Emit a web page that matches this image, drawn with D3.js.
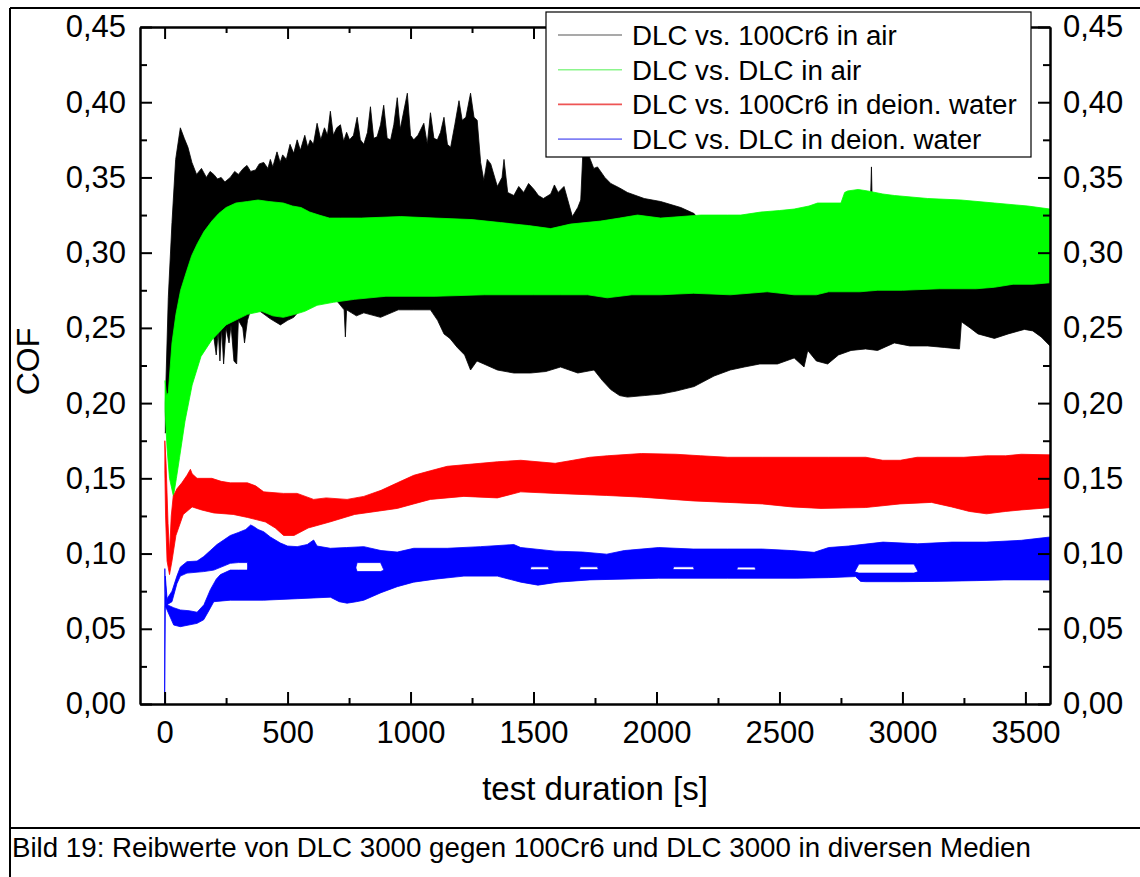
<!DOCTYPE html>
<html>
<head>
<meta charset="utf-8">
<script src="https://cdn.jsdelivr.net/npm/d3@7"></script>
<style>
  html, body { margin: 0; padding: 0; background: #ffffff; }
  svg { display: block; }
  text { font-family: "Liberation Sans", Arial, sans-serif; fill: #000; }
</style>
</head>
<body>
<svg id="chart" width="1140" height="877"></svg>
<script>
// ---------------- DATA ----------------
const xTickValues = [0, 500, 1000, 1500, 2000, 2500, 3000, 3500];
const xMinorTickValues = [250, 750, 1250, 1750, 2250, 2750, 3250];
const yTickValues = [0, 0.05, 0.10, 0.15, 0.20, 0.25, 0.30, 0.35, 0.40, 0.45];
const yMinorTickValues = [0.025, 0.075, 0.125, 0.175, 0.225, 0.275, 0.325, 0.375, 0.425];

const seriesNames = [
  "DLC vs. 100Cr6 in air",
  "DLC vs. DLC in air",
  "DLC vs. 100Cr6 in deion. water",
  "DLC vs. DLC in deion. water"
];

// DLC vs. 100Cr6 in air : envelope of the oscillating signal [time s, COF]
const blackUpper = [
  [3,0.20],[15,0.27],[30,0.32],[45,0.362],[64,0.383],[80,0.376],[95,0.37],[111,0.360],[130,0.352],
  [150,0.356],[170,0.350],[185,0.354],[200,0.352],[215,0.349],[230,0.350],[245,0.347],[267,0.350],
  [285,0.354],[300,0.352],[320,0.356],[335,0.358],[350,0.354],[370,0.355],[385,0.359],[403,0.360],
  [420,0.356],[430,0.362],[440,0.357],[457,0.367],[470,0.360],[480,0.365],[495,0.362],[510,0.372],
  [525,0.366],[539,0.375],[552,0.368],[570,0.378],[582,0.370],[592,0.375],[605,0.372],[620,0.386],
  [635,0.375],[650,0.383],[662,0.378],[674,0.394],[686,0.378],[700,0.383],[715,0.385],[728,0.374],
  [740,0.380],[752,0.375],[768,0.378],[783,0.390],[796,0.375],[810,0.372],[825,0.380],[837,0.397],
  [850,0.376],[864,0.377],[878,0.385],[891,0.398],[905,0.376],[919,0.375],[932,0.385],[946,0.403],
  [958,0.382],[970,0.392],[987,0.406],[1000,0.378],[1013,0.375],[1030,0.378],[1054,0.386],
  [1068,0.372],[1081,0.393],[1095,0.376],[1109,0.375],[1122,0.380],[1136,0.390],[1150,0.372],
  [1163,0.370],[1180,0.385],[1197,0.401],[1210,0.388],[1225,0.390],[1244,0.406],[1258,0.390],
  [1271,0.388],[1285,0.36],[1298,0.348],[1312,0.362],[1326,0.359],[1353,0.344],[1372,0.350],
  [1380,0.362],[1395,0.340],[1420,0.338],[1440,0.344],[1460,0.340],[1480,0.346],[1502,0.342],
  [1520,0.338],[1540,0.336],[1570,0.339],[1585,0.345],[1600,0.340],[1624,0.344],[1658,0.324],
  [1680,0.330],[1692,0.335],[1700,0.364],[1726,0.364],[1745,0.356],[1760,0.357],[1790,0.350],
  [1814,0.346],[1850,0.343],[1882,0.340],[1950,0.336],[2017,0.334],[2099,0.330],[2153,0.326],
  [2200,0.315],[2400,0.31],[2866,0.31],[2874,0.357],[2880,0.31],[3600,0.31]
];
const blackLower = [
  [3,0.18],[10,0.19],[30,0.21],[60,0.23],[100,0.25],[150,0.26],[190,0.255],[200,0.244],[210,0.232],
  [218,0.248],[225,0.228],[232,0.25],[240,0.226],[250,0.25],[262,0.24],[270,0.252],[282,0.228],
  [293,0.226],[300,0.255],[318,0.25],[325,0.24],[337,0.255],[350,0.262],[380,0.262],[430,0.256],
  [471,0.252],[500,0.255],[525,0.257],[566,0.265],[620,0.268],[674,0.269],[700,0.268],[730,0.262],
  [735,0.244],[740,0.262],[760,0.26],[780,0.258],[810,0.26],[878,0.257],[950,0.262],[1013,0.262],
  [1081,0.262],[1110,0.255],[1136,0.246],[1160,0.243],[1190,0.237],[1220,0.232],[1244,0.222],
  [1270,0.228],[1298,0.226],[1353,0.222],[1420,0.220],[1488,0.220],[1550,0.221],[1610,0.224],
  [1680,0.220],[1746,0.222],[1780,0.215],[1814,0.209],[1850,0.205],[1882,0.204],[1950,0.205],
  [2017,0.206],[2080,0.208],[2153,0.211],[2234,0.218],[2300,0.222],[2357,0.224],[2420,0.226],
  [2492,0.226],[2560,0.230],[2600,0.224],[2615,0.235],[2650,0.228],[2696,0.226],[2740,0.232],
  [2791,0.235],[2850,0.236],[2899,0.235],[2967,0.240],[3030,0.238],[3103,0.238],[3170,0.237],
  [3232,0.236],[3240,0.254],[3275,0.25],[3307,0.246],[3374,0.243],[3430,0.246],[3496,0.249],
  [3530,0.248],[3564,0.244],[3600,0.238]
];

// DLC vs. DLC in air
const greenUpper = [
  [2,0.215],[8,0.205],[15,0.207],[30,0.24],[46,0.259],[65,0.275],[90,0.288],[110,0.298],[133,0.306],
  [160,0.314],[192,0.321],[220,0.326],[250,0.330],[290,0.333],[337,0.334],[380,0.335],[424,0.334],
  [483,0.333],[520,0.331],[555,0.330],[590,0.327],[628,0.325],[670,0.323],[715,0.323],[800,0.323],
  [960,0.324],[1100,0.323],[1250,0.322],[1366,0.320],[1480,0.318],[1570,0.316],[1650,0.319],
  [1773,0.321],[1850,0.323],[1923,0.325],[2017,0.323],[2100,0.324],[2180,0.325],[2289,0.325],
  [2343,0.325],[2424,0.327],[2500,0.328],[2560,0.329],[2620,0.331],[2655,0.333],[2750,0.333],
  [2765,0.34],[2777,0.341],[2820,0.342],[2859,0.341],[2920,0.339],[2967,0.338],[3103,0.336],
  [3238,0.335],[3374,0.333],[3510,0.331],[3600,0.329]
];
const greenLower = [
  [2,0.195],[10,0.17],[20,0.15],[36,0.138],[48,0.15],[61,0.164],[83,0.188],[112,0.212],[148,0.231],
  [192,0.242],[250,0.252],[300,0.256],[337,0.259],[395,0.261],[440,0.258],[483,0.257],[530,0.259],
  [570,0.261],[620,0.265],[686,0.267],[773,0.269],[900,0.271],[1100,0.271],[1300,0.272],[1500,0.272],
  [1610,0.272],[1720,0.272],[1800,0.270],[1900,0.272],[2017,0.272],[2150,0.273],[2300,0.272],
  [2450,0.274],[2560,0.272],[2650,0.272],[2700,0.274],[2827,0.274],[2900,0.275],[3000,0.275],
  [3150,0.276],[3300,0.276],[3374,0.277],[3450,0.279],[3530,0.279],[3600,0.280]
];

// DLC vs. 100Cr6 in deion. water
const redUpper = [
  [1,0.175],[6,0.16],[14,0.12],[20,0.10],[27,0.125],[35,0.138],[50,0.143],[70,0.147],[91,0.152],
  [105,0.156],[112,0.153],[132,0.150],[192,0.150],[230,0.148],[267,0.147],[337,0.147],[370,0.145],
  [403,0.141],[483,0.140],[539,0.140],[606,0.136],[657,0.137],[742,0.136],[810,0.138],[880,0.142],
  [946,0.147],[1013,0.152],[1080,0.155],[1149,0.158],[1217,0.159],[1285,0.160],[1353,0.161],
  [1448,0.162],[1588,0.160],[1660,0.162],[1729,0.164],[1800,0.165],[1939,0.1665],[2079,0.166],
  [2180,0.165],[2290,0.164],[2430,0.164],[2571,0.164],[2700,0.164],[2851,0.164],[2920,0.162],
  [2991,0.162],[3060,0.164],[3132,0.164],[3250,0.164],[3342,0.165],[3420,0.165],[3483,0.166],
  [3600,0.1656]
];
const redLower = [
  [1,0.155],[4,0.125],[10,0.095],[20,0.086],[30,0.095],[46,0.112],[76,0.126],[112,0.131],[150,0.129],
  [200,0.127],[279,0.126],[337,0.124],[410,0.121],[450,0.117],[484,0.112],[526,0.112],[584,0.117],
  [672,0.121],[773,0.126],[860,0.128],[946,0.130],[1013,0.133],[1081,0.136],[1217,0.138],
  [1353,0.137],[1448,0.141],[1588,0.140],[1798,0.1386],[1939,0.1375],[2149,0.135],[2290,0.134],
  [2430,0.133],[2550,0.131],[2669,0.130],[2851,0.1306],[2990,0.133],[3118,0.134],[3200,0.131],
  [3272,0.128],[3342,0.1264],[3420,0.128],[3483,0.129],[3600,0.1305]
];

// DLC vs. DLC in deion. water : upper strand
const blueUpperTop = [
  [3,0.085],[10,0.07],[30,0.075],[50,0.085],[64,0.091],[91,0.0946],[132,0.095],[159,0.098],
  [186,0.102],[213,0.106],[240,0.109],[267,0.112],[300,0.114],[330,0.116],[350,0.119],[362,0.118],
  [380,0.116],[403,0.1145],[430,0.111],[471,0.107],[500,0.105],[539,0.1046],[580,0.106],[606,0.109],
  [620,0.105],[674,0.1035],[740,0.104],[810,0.1046],[880,0.102],[946,0.101],[1013,0.1035],
  [1149,0.1035],[1285,0.1046],[1420,0.106],[1448,0.104],[1588,0.1016],[1700,0.101],[1798,0.0996],
  [1869,0.102],[2009,0.104],[2149,0.103],[2290,0.103],[2430,0.103],[2550,0.102],[2641,0.1008],
  [2700,0.104],[2781,0.105],[2921,0.1076],[3062,0.1065],[3202,0.1076],[3342,0.1076],[3483,0.1088],
  [3600,0.111]
];
const blueUpperBottom = [
  [3,0.08],[10,0.066],[30,0.068],[50,0.08],[64,0.085],[91,0.087],[159,0.088],[200,0.089],[230,0.091],
  [267,0.0935],[300,0.094],[337,0.094],[345,0.08],[760,0.08],[783,0.094],[878,0.094],[900,0.086],
  [1480,0.086],[1490,0.0912],[1560,0.0912],[1570,0.086],[1680,0.086],[1690,0.0912],[1760,0.0912],
  [1770,0.086],[2060,0.086],[2070,0.0912],[2150,0.0912],[2160,0.086],[2320,0.086],[2330,0.0910],
  [2400,0.0910],[2410,0.086],[2800,0.086],[2823,0.093],[3047,0.093],[3070,0.086],[3600,0.086]
];
// lower strand
const blueLowerTop = [
  [0,0.0],[1,0.09],[3,0.075],[10,0.066],[37,0.064],[64,0.0625],[100,0.062],[132,0.061],[160,0.066],
  [186,0.076],[210,0.083],[227,0.086],[267,0.089],[300,0.089],[337,0.089],[345,0.10],[400,0.105],
  [600,0.10],[760,0.098],[783,0.088],[878,0.088],[900,0.0895],[1500,0.0893],[2000,0.0894],
  [2600,0.089],[2780,0.089],[2823,0.087],[3047,0.087],[3100,0.090],[3600,0.091]
];
const blueLowerBottom = [
  [0,0.0],[3,0.065],[10,0.0625],[37,0.0525],[64,0.0514],[132,0.0536],[159,0.056],[180,0.062],
  [200,0.068],[267,0.069],[403,0.069],[539,0.070],[674,0.071],[710,0.068],[742,0.067],[780,0.068],
  [810,0.069],[880,0.074],[946,0.078],[1013,0.081],[1100,0.083],[1217,0.085],[1353,0.085],
  [1448,0.081],[1518,0.079],[1600,0.081],[1729,0.0825],[2009,0.0836],[2290,0.0836],[2571,0.0836],
  [2700,0.084],[2809,0.0847],[2830,0.0815],[2851,0.0813],[2991,0.0813],[3132,0.0815],[3300,0.082],
  [3413,0.0825],[3600,0.0825]
];

const seriesColors = ["#000000", "#00ff00", "#ff0000", "#0000ff"];
const legendLineColors = ["#8c8c8c", "#8cf58c", "#ee5555", "#8080f5"];

// ---------------- DRAWING ----------------
const svg = d3.select("#chart");
const W = 1140, H = 877;
const plot = { left: 140, right: 1050, top: 27, bottom: 704 };

svg.append("rect").attr("width", W).attr("height", H).attr("fill", "#ffffff");

const x = d3.scaleLinear().domain([-100, 3600]).range([plot.left, plot.right]);
const y = d3.scaleLinear().domain([0, 0.45]).range([plot.bottom, plot.top]);

svg.append("clipPath").attr("id", "clip")
  .append("rect")
  .attr("x", plot.left).attr("y", plot.top)
  .attr("width", plot.right - plot.left).attr("height", plot.bottom - plot.top);

const line = d3.line().x(d => x(d[0])).y(d => y(d[1]));
const bands = [
  { upper: blackUpper, lower: blackLower, color: seriesColors[0] },
  { upper: greenUpper, lower: greenLower, color: seriesColors[1] },
  { upper: redUpper, lower: redLower, color: seriesColors[2] },
  { upper: blueUpperTop, lower: blueUpperBottom, color: seriesColors[3] },
  { upper: blueLowerTop, lower: blueLowerBottom, color: seriesColors[3] }
];
const gData = svg.append("g").attr("clip-path", "url(#clip)");
bands.forEach(b => {
  const pts = b.upper.concat(b.lower.slice().reverse());
  gData.append("path")
    .attr("d", line(pts) + "Z")
    .attr("fill", b.color)
    .attr("stroke", b.color)
    .attr("stroke-width", 0.8)
    .attr("stroke-linejoin", "round");
});

// ---------------- AXES ----------------
const fmtY = d => d3.format(".2f")(d).replace(".", ",");
const tickFont = "31px";

function styleAxis(g) {
  g.selectAll("path.domain").attr("stroke", "#000").attr("stroke-width", 2);
  g.selectAll(".tick line").attr("stroke", "#000").attr("stroke-width", 2);
  g.selectAll("text").style("font-size", tickFont).style("font-family", '"Liberation Sans", Arial, sans-serif').attr("fill", "#000");
}

// bottom
svg.append("g").attr("transform", `translate(0,${plot.bottom})`)
  .call(d3.axisBottom(x).tickValues(xTickValues).tickSizeInner(-12).tickSizeOuter(0).tickPadding(17).tickFormat(d3.format("d")))
  .call(styleAxis);
svg.append("g").attr("transform", `translate(0,${plot.bottom})`)
  .call(d3.axisBottom(x).tickValues(xMinorTickValues).tickSizeInner(-6).tickSizeOuter(0).tickFormat(""))
  .call(styleAxis);
// top
svg.append("g").attr("transform", `translate(0,${plot.top})`)
  .call(d3.axisTop(x).tickValues(xTickValues).tickSizeInner(-12).tickSizeOuter(0).tickFormat(""))
  .call(styleAxis);
svg.append("g").attr("transform", `translate(0,${plot.top})`)
  .call(d3.axisTop(x).tickValues(xMinorTickValues).tickSizeInner(-6).tickSizeOuter(0).tickFormat(""))
  .call(styleAxis);
// left
svg.append("g").attr("transform", `translate(${plot.left},0)`)
  .call(d3.axisLeft(y).tickValues(yTickValues).tickSizeInner(-12).tickSizeOuter(0).tickPadding(14).tickFormat(fmtY))
  .call(styleAxis);
svg.append("g").attr("transform", `translate(${plot.left},0)`)
  .call(d3.axisLeft(y).tickValues(yMinorTickValues).tickSizeInner(-7).tickSizeOuter(0).tickFormat(""))
  .call(styleAxis);
// right
svg.append("g").attr("transform", `translate(${plot.right},0)`)
  .call(d3.axisRight(y).tickValues(yTickValues).tickSizeInner(-12).tickSizeOuter(0).tickPadding(13).tickFormat(fmtY))
  .call(styleAxis);
svg.append("g").attr("transform", `translate(${plot.right},0)`)
  .call(d3.axisRight(y).tickValues(yMinorTickValues).tickSizeInner(-7).tickSizeOuter(0).tickFormat(""))
  .call(styleAxis);

// axis titles
svg.append("text")
  .attr("x", (plot.left + plot.right) / 2).attr("y", 800)
  .attr("text-anchor", "middle").style("font-size", "33px")
  .text("test duration [s]");
svg.append("text")
  .attr("transform", `translate(39,${(plot.top + plot.bottom) / 2 - 4}) rotate(-90)`)
  .attr("text-anchor", "middle").style("font-size", "32px")
  .text("COF");

// ---------------- LEGEND ----------------
const lg = svg.append("g");
lg.append("rect").attr("x", 546).attr("y", 12).attr("width", 485).attr("height", 145)
  .attr("fill", "#ffffff").attr("stroke", "#000").attr("stroke-width", 1.2);
seriesNames.forEach((name, i) => {
  const cy = 35 + i * 34.7;
  lg.append("line").attr("x1", 558).attr("x2", 622).attr("y1", cy).attr("y2", cy)
    .attr("stroke", legendLineColors[i]).attr("stroke-width", 1.6);
  lg.append("text").attr("x", 632).attr("y", cy + 10).style("font-size", "27.7px").text(name);
});

// ---------------- FRAME & CAPTION ----------------
svg.append("line").attr("x1", 10).attr("x2", W).attr("y1", 8).attr("y2", 8).attr("stroke", "#000").attr("stroke-width", 2);
svg.append("line").attr("x1", 10).attr("x2", 10).attr("y1", 8).attr("y2", H).attr("stroke", "#000").attr("stroke-width", 2);
svg.append("line").attr("x1", 10).attr("x2", W).attr("y1", 828).attr("y2", 828).attr("stroke", "#000").attr("stroke-width", 2);
svg.append("text").attr("x", 12).attr("y", 857).style("font-size", "27.7px")
  .text("Bild 19: Reibwerte von DLC 3000 gegen 100Cr6 und DLC 3000 in diversen Medien");
</script>
</body>
</html>
